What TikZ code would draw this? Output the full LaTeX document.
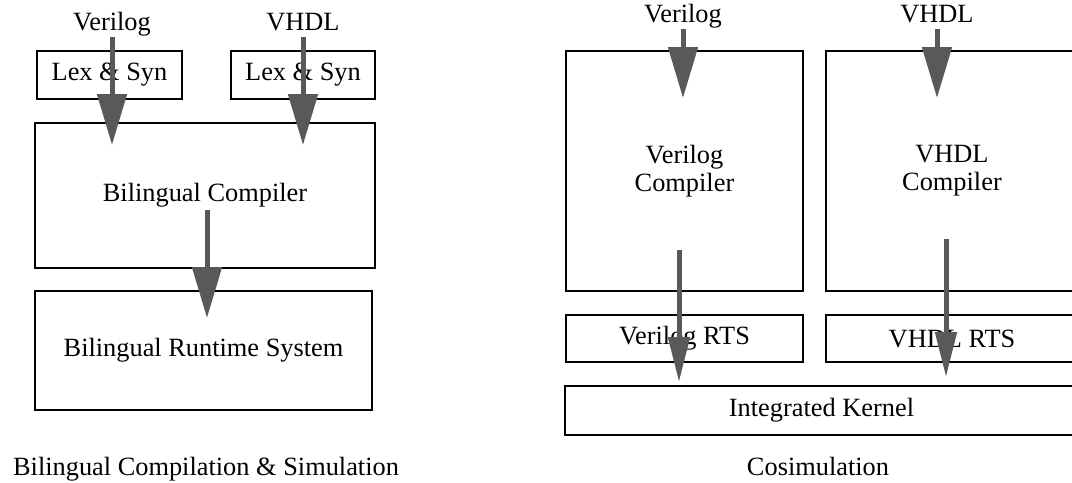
\documentclass[tikz,border=0pt]{standalone}
\usepackage{fontspec}
\setmainfont{Liberation Serif}
\usetikzlibrary{arrows.meta}
\tikzset{
  blk/.style={draw, rectangle, line width=1pt, align=center},
  lbl/.style={inner sep=1pt, text height=1.6ex, text depth=0.5ex},
  bigarrow/.style={line width=0.1cm, black!65, -{Triangle[length=1.02cm, width=0.58cm]}},
  slimarrow/.style={line width=0.1cm, black!65, -{Triangle[length=0.9cm, width=0.42cm]}},
}
\begin{document}
\begin{tikzpicture}[x=0.02cm, y=-0.02cm, font=\fontsize{15}{16}\selectfont]
    \useasboundingbox (0,0) rectangle (1072,483);
    \clip (0,0) rectangle (1072,483);

    % Draw the bilingual side
    \node[lbl] (vlogA) at (112,26) {Verilog};
    \node[lbl] (vhdlA) at (303,26) {VHDL};
    \node[blk, minimum width=2.9cm, minimum height=0.96cm] (lexA) at (109.5,75) {Lex \& Syn};
    \node[blk, minimum width=2.88cm, minimum height=0.96cm] (lexB) at (303,75) {Lex \& Syn};
    \node[blk, minimum width=6.8cm, minimum height=2.9cm] (bicomp) at (205,195.5) {Bilingual Compiler};
    \node[blk, minimum width=6.74cm, minimum height=2.38cm] (birts) at (203.5,350.5) {Bilingual Runtime System};
    \node[lbl] (capA) at (206,471) {Bilingual Compilation \& Simulation};

    % Draw the cosimulation side
    \node[lbl] (vlogB) at (683,18) {Verilog};
    \node[lbl] (vhdlB) at (937,18) {VHDL};
    \node[blk, minimum width=4.74cm, minimum height=4.8cm] (vcomp) at (684.5,171) {Verilog\\Compiler};
    \node[blk, minimum width=5.04cm, minimum height=4.8cm] (hcomp) at (952,171) {VHDL\\Compiler};
    \node[blk, minimum width=4.74cm, minimum height=0.94cm] (vrts) at (684.5,338.5) {Verilog RTS};
    \node[blk, minimum width=5.04cm, minimum height=0.94cm] (hrts) at (952,338.5) {VHDL RTS};
    \node[blk, minimum width=10.26cm, minimum height=0.98cm] (kernel) at (821.5,410.5) {Integrated Kernel};
    \node[lbl] (capB) at (818,471) {Cosimulation};

    % Arrow ends
    \coordinate (tipA) at (112,145);
    \coordinate (tipB) at (303,145);
    \coordinate (midS) at (207,210);
    \coordinate (midT) at (207,318);
    \coordinate (tipC) at (683,98);
    \coordinate (tipD) at (937,98);
    \coordinate (vlogS) at (679,250);
    \coordinate (vlogT) at (679,382);
    \coordinate (vhdlS) at (946,239);
    \coordinate (vhdlT) at (946,377);

    % Draw connections
    \draw[bigarrow] (vlogA.south) -- (tipA);
    \draw[bigarrow] (vhdlA.south) -- (tipB);
    \draw[bigarrow] (midS) -- (midT);
    \draw[bigarrow] (vlogB.south) -- (tipC);
    \draw[bigarrow] (vhdlB.south) -- (tipD);
    \draw[slimarrow] (vlogS) -- (vlogT);
    \draw[slimarrow] (vhdlS) -- (vhdlT);

\end{tikzpicture}
\end{document}
